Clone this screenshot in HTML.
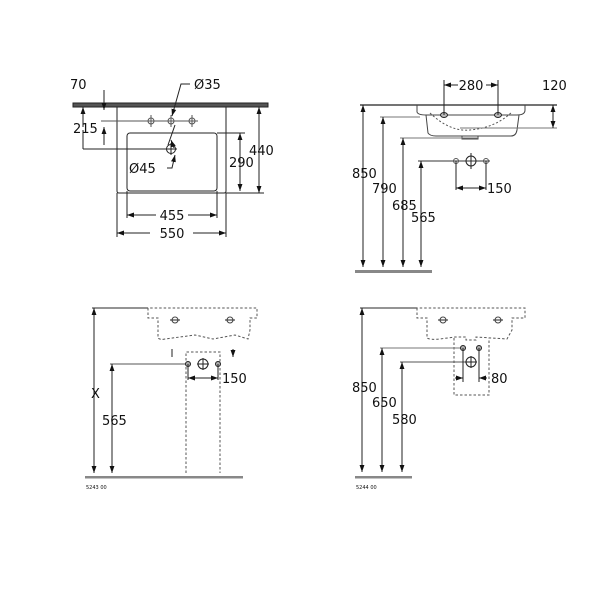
<!DOCTYPE html>
<html><head><style>
body{margin:0;background:#fff}
svg text{font-family:"DejaVu Sans","Liberation Sans",sans-serif;font-size:13px;fill:#111}
</style></head><body>
<svg width="600" height="600" viewBox="0 0 600 600" xmlns="http://www.w3.org/2000/svg">
<defs>
<marker id="a" viewBox="0 0 10 10" refX="10" refY="5" markerWidth="7" markerHeight="7" orient="auto-start-reverse"><path d="M0,1.5L10,5L0,8.5z" fill="#111"/></marker>
</defs>
<g stroke="#222" stroke-width="1" fill="none">
<!-- TOP LEFT -->
<rect x="73" y="103" width="195" height="4" fill="#555" stroke="#222"/>
<path d="M117,107V191Q117,193 119,193H224Q226,193 226,191V107"/>
<rect x="127" y="133" width="90" height="58" rx="3"/>
<g stroke="#555"><circle cx="151" cy="121" r="3"/><path d="M145,121h12M151,115v12"/>
<circle cx="171" cy="121" r="3"/><path d="M165,121h12M171,115v12"/>
<circle cx="192" cy="121" r="3"/><path d="M186,121h12M192,115v12"/></g>
<circle cx="171" cy="149" r="4.5"/><path d="M165,149h12M171,143v12"/>
<path d="M101,121H188" stroke="#555"/>
<path d="M104,90V110" marker-end="url(#a)"/><path d="M104,145V127" marker-end="url(#a)"/>
<path d="M83,149H171"/><path d="M83,127V107" marker-end="url(#a)"/><path d="M83,130V149"/>
<path d="M190,84H181L172,116" marker-end="url(#a)"/><path d="M175,125L168,145"/>
<path d="M167,168H172L175,155" marker-end="url(#a)"/><path d="M171,140L174,148" marker-start="url(#a)"/>
<path d="M217,133H245M226,193H264"/>
<path d="M240,133V191" marker-start="url(#a)" marker-end="url(#a)"/>
<path d="M259,107V193" marker-start="url(#a)" marker-end="url(#a)"/>
<path d="M127,191V218M217,191V218M117,193V237M226,193V237"/>
<path d="M127,215H156M188,215H217" /><path d="M156,215H127" marker-end="url(#a)"/><path d="M188,215H217" marker-end="url(#a)"/>
<path d="M150,233H117" marker-end="url(#a)"/><path d="M193,233H226" marker-end="url(#a)"/>
<!-- TOP RIGHT -->
<path d="M360,105H557" stroke-width="1.3"/>
<path d="M417,105V112Q418,115 426,115H517Q525,115 525,110V105" stroke="#444"/>
<path d="M426,115L428,133Q430,136 436,136H511Q516,136 517,130L519,115" stroke="#444"/>
<path d="M462,136V139H478V136" stroke="#444"/>
<path d="M430,113Q450,132 470,130Q495,128 512,112" stroke="#555" stroke-dasharray="2,2"/>
<ellipse cx="444" cy="115" rx="3.5" ry="2.5" fill="#bbb"/><ellipse cx="498" cy="115" rx="3.5" ry="2.5" fill="#bbb"/>
<path d="M444,80V115M498,80V115"/>
<path d="M458,85H444" marker-end="url(#a)"/><path d="M486,85H498" marker-end="url(#a)"/>
<path d="M460,128H557" stroke="#777"/>
<path d="M553,105V128" marker-start="url(#a)" marker-end="url(#a)"/>
<path d="M363,105V267" marker-start="url(#a)" marker-end="url(#a)"/>
<path d="M380,117H420" stroke="#777"/><path d="M383,117V267" marker-start="url(#a)" marker-end="url(#a)"/>
<path d="M400,138H478" stroke="#777"/><path d="M403,138V267" marker-start="url(#a)" marker-end="url(#a)"/>
<path d="M418,161H490" stroke="#333"/><path d="M421,161V267" marker-start="url(#a)" marker-end="url(#a)"/>
<circle cx="456" cy="161" r="2.5" stroke="#555"/><circle cx="486" cy="161" r="2.5" stroke="#555"/>
<circle cx="471" cy="161" r="5"/><path d="M471,153v16"/>
<path d="M456,161V190M486,161V190"/>
<path d="M456,188H486" marker-start="url(#a)" marker-end="url(#a)"/>
<rect x="355" y="270" width="77" height="3" fill="#888" stroke="none"/>
<!-- BOTTOM LEFT -->
<path d="M92,308H148" stroke="#555" stroke-width="1.3"/>
<g stroke="#555" stroke-dasharray="2.5,2">
<path d="M148,308V318H158V338Q160,340 165,339L195,335L213,339L235,335L248,339L250,330V318H257V308Z"/>
<path d="M186,473V352H220V473"/>
</g>
<circle cx="175" cy="320" r="3" stroke="#444"/><path d="M170,320h10"/>
<circle cx="230" cy="320" r="3" stroke="#444"/><path d="M225,320h10"/>
<path d="M172,349V357M233,349V357" marker-end="url(#a)"/>
<path d="M94,308V473" marker-start="url(#a)" marker-end="url(#a)"/>
<path d="M110,364H186" stroke="#555"/><path d="M112,364V473" marker-start="url(#a)" marker-end="url(#a)"/>
<circle cx="188" cy="364" r="2.5" fill="#aaa"/><circle cx="218" cy="364" r="2.5" fill="#aaa"/>
<circle cx="203" cy="364" r="5"/><path d="M203,358v12M197,364h12"/>
<path d="M188,364V380M218,364V380"/>
<path d="M188,378H218" marker-start="url(#a)" marker-end="url(#a)"/>
<rect x="85" y="476" width="158" height="2.5" fill="#888" stroke="none"/>
<!-- BOTTOM RIGHT -->
<path d="M360,308H417" stroke="#555" stroke-width="1.3"/>
<g stroke="#555" stroke-dasharray="2.5,2">
<path d="M417,308V318H427V338Q430,340 440,339L455,337H466V340H476V337L507,339L512,330V318H525V308Z"/>
<path d="M454,338V395H489V338"/>
</g>
<circle cx="443" cy="320" r="3" stroke="#444"/><path d="M438,320h10"/>
<circle cx="498" cy="320" r="3" stroke="#444"/><path d="M493,320h10"/>
<path d="M362,308V472" marker-start="url(#a)" marker-end="url(#a)"/>
<path d="M380,348H466" stroke="#777"/><path d="M382,348V472" marker-start="url(#a)" marker-end="url(#a)"/>
<path d="M400,362H472" stroke="#555"/><path d="M402,362V472" marker-start="url(#a)" marker-end="url(#a)"/>
<circle cx="463" cy="348" r="2.5" fill="#aaa"/><circle cx="479" cy="348" r="2.5" fill="#aaa"/>
<circle cx="471" cy="362" r="5"/><path d="M471,356v12M465,362h12"/>
<path d="M463,348V382M479,348V382"/>
<path d="M455,378H463" marker-end="url(#a)"/><path d="M487,378H479" marker-end="url(#a)"/>
<rect x="355" y="476" width="57" height="2.5" fill="#888" stroke="none"/>
</g>
<text x="70" y="89">70</text>
<text x="194" y="89">Ø35</text>
<text x="73" y="133">215</text>
<text x="129" y="173">Ø45</text>
<text x="229" y="167">290</text>
<text x="249" y="155">440</text>
<text x="172" y="220" text-anchor="middle">455</text>
<text x="172" y="238" text-anchor="middle">550</text>
<text x="471" y="90" text-anchor="middle">280</text>
<text x="542" y="90">120</text>
<text x="352" y="178">850</text>
<text x="372" y="193">790</text>
<text x="392" y="210">685</text>
<text x="411" y="222">565</text>
<text x="487" y="193">150</text>
<text x="91" y="398">X</text>
<text x="102" y="425">565</text>
<text x="222" y="383">150</text>
<text x="352" y="392">850</text>
<text x="372" y="407">650</text>
<text x="392" y="424">580</text>
<text x="491" y="383">80</text>
<text x="86" y="489" style="font-size:5px">5243 00</text>
<text x="356" y="489" style="font-size:5px">5244 00</text>
</svg>
</body></html>
